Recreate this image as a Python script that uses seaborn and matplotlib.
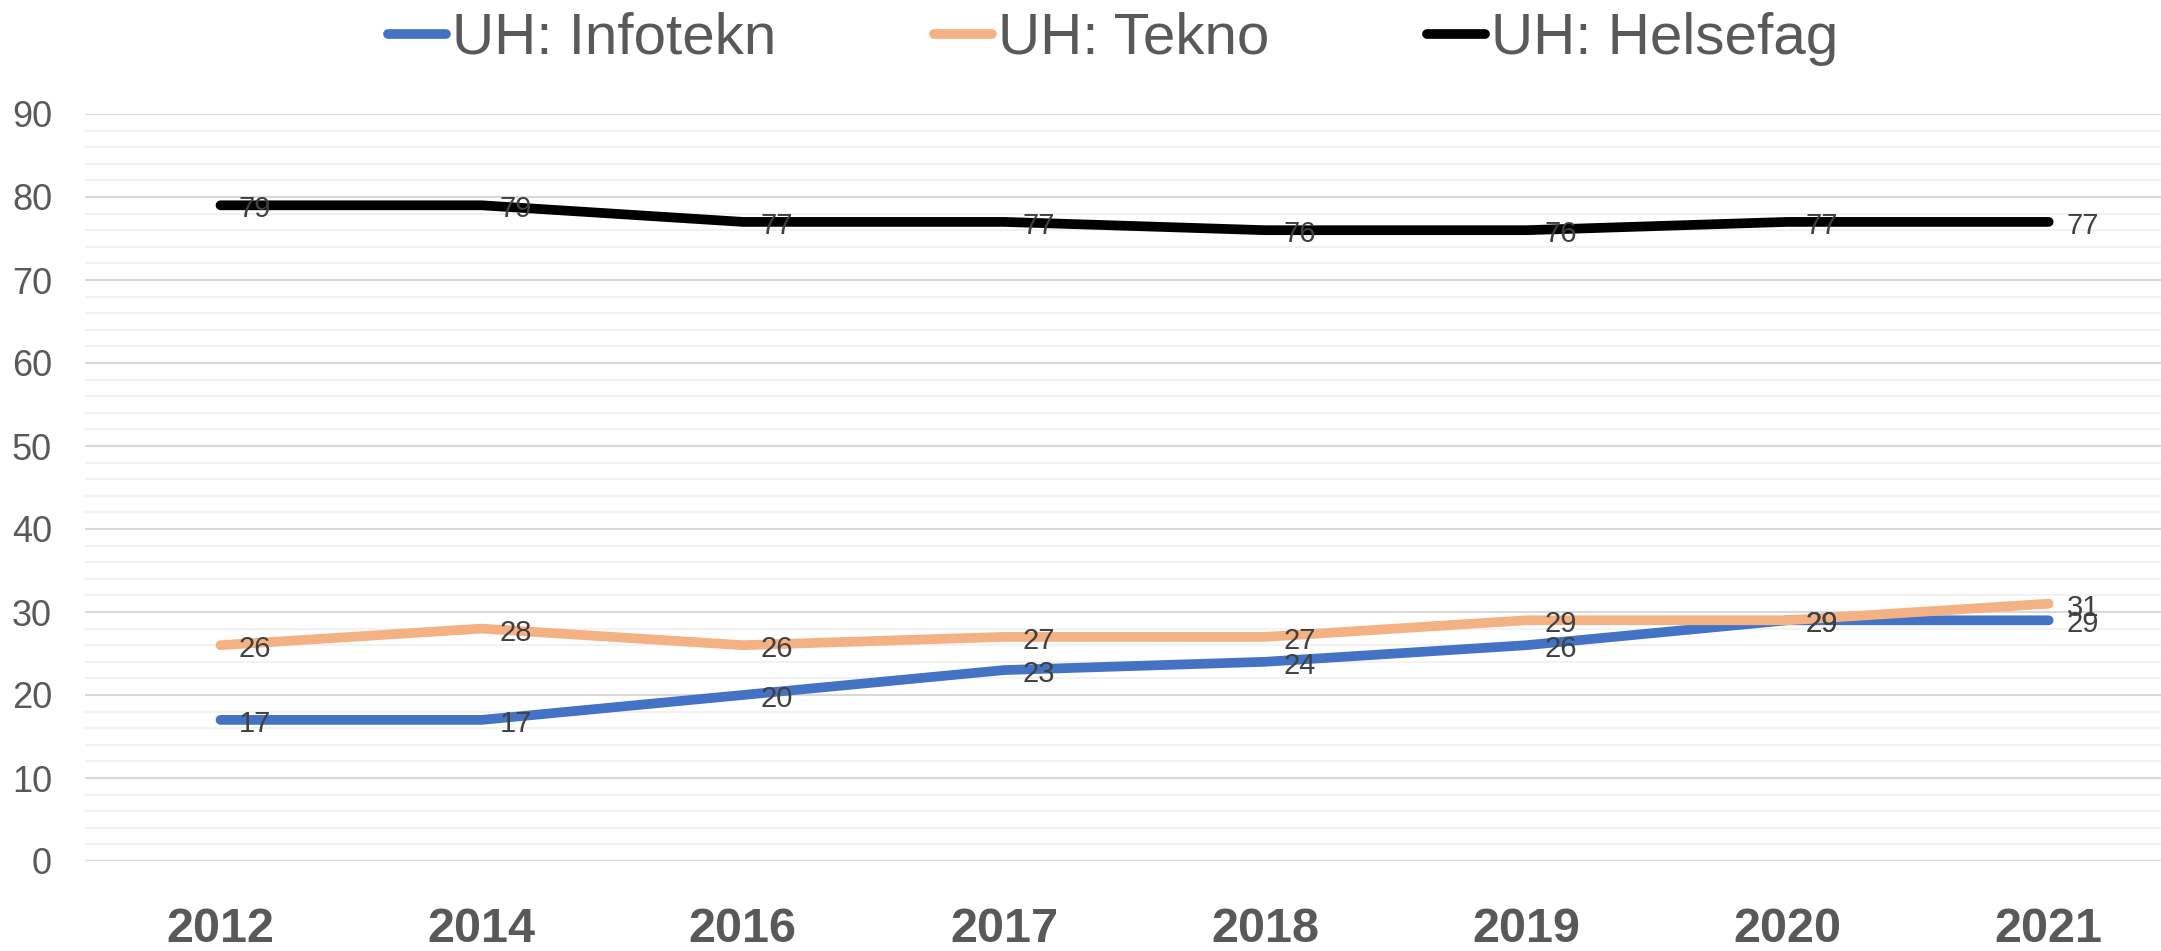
import matplotlib
matplotlib.use("Agg")
import matplotlib.pyplot as plt
from matplotlib.lines import Line2D
from matplotlib.ticker import MultipleLocator
import seaborn as sns
import pandas as pd

years = ["2012", "2014", "2016", "2017", "2018", "2019", "2020", "2021"]
series_names = ["UH: Infotekn", "UH: Tekno", "UH: Helsefag"]
infotekn = [17, 17, 20, 23, 24, 26, 29, 29]
tekno = [26, 28, 26, 27, 27, 29, 29, 31]
helsefag = [79, 79, 77, 77, 76, 76, 77, 77]
colors = ["#4472C4", "#F4B183", "#000000"]

df = pd.DataFrame({
    "year": years * 3,
    "value": infotekn + tekno + helsefag,
    "series": [s for s in series_names for _ in years],
})

sns.set_style("white")
plt.rcParams["font.family"] = ["Liberation Sans", "DejaVu Sans"]

fig = plt.figure(figsize=(21.61, 9.51), dpi=100)
ax = fig.add_axes([62 / 1568, 1 - 861 / 951, 1 - 62 / 1568, (861 - 114) / 951])

sns.lineplot(data=df, x="year", y="value", hue="series", palette=colors,
             linewidth=7, sort=False, ax=ax, legend=False,
             solid_capstyle="round", solid_joinstyle="round")

# data labels to the right of each point
for vals in [infotekn, tekno, helsefag]:
    for i, v in enumerate(vals):
        ax.annotate(str(v), (i, v), xytext=(13, -3), textcoords="offset points",
                    ha="left", va="center", fontsize=21, color="#404040")

ax.set_ylim(0, 90)
ax.set_xlim(-0.517, 7.43)
ax.yaxis.set_major_locator(MultipleLocator(10))
ax.yaxis.set_minor_locator(MultipleLocator(2))
ax.grid(which="minor", axis="y", color="#F2F2F2", linewidth=1.5)
ax.grid(which="major", axis="y", color="#D9D9D9", linewidth=1.5)
ax.grid(axis="x", visible=False)
ax.set_axisbelow(True)
for s in ax.spines.values():
    s.set_visible(False)

ax.tick_params(axis="y", which="both", length=0, pad=24, labelsize=26, labelcolor="#595959")
ax.tick_params(axis="x", length=0, pad=33, labelsize=35, labelcolor="#595959")
for lab in ax.get_xticklabels():
    lab.set_fontweight("bold")
ax.set_xlabel("")
ax.set_ylabel("")

handles = [Line2D([], [], color=c, linewidth=7, solid_capstyle="round") for c in colors]
fig.legend(handles, series_names, loc="center", bbox_to_anchor=(0.515, 1 - 39 / 951),
           ncol=3, frameon=False, fontsize=42, labelcolor="#595959",
           handlelength=1.0, handletextpad=0.1, columnspacing=2.7)

fig.savefig("out.png", dpi=100)
